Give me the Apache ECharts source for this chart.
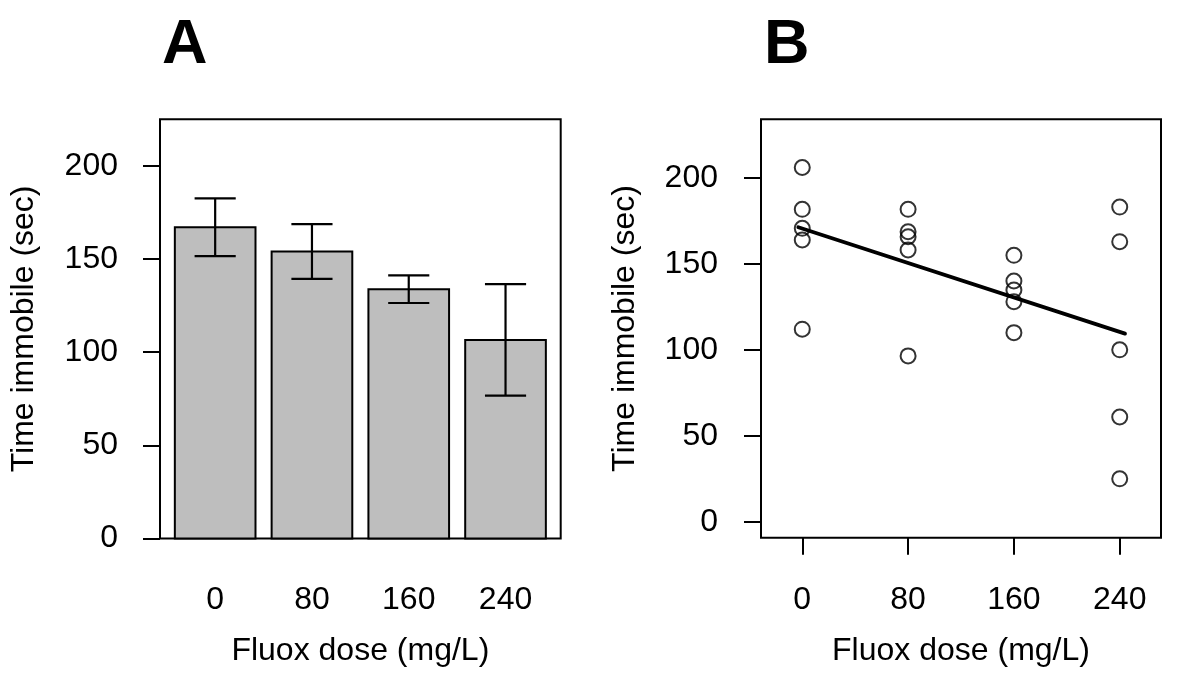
<!DOCTYPE html>
<html>
<head>
<meta charset="utf-8">
<script src="https://cdn.jsdelivr.net/npm/echarts@6/dist/echarts.min.js"></script>
<style>
html,body{margin:0;padding:0;background:#fff;}
#chart{width:1200px;height:699px;}
</style>
</head>
<body>
<div id="chart"></div>
<script>
// ---- data ----
const doseLabels = ['0', '80', '160', '240'];
const doseValues = [0, 80, 160, 240];
const meanImmobile = [167.1, 154.0, 133.8, 106.6];
const semImmobile = [15.5, 14.7, 7.4, 29.9];
const yTicks = [0, 50, 100, 150, 200];

const pts0 = [206.0, 181.7, 170.7, 163.9, 112.1];
const pts80 = [181.7, 168.7, 165.8, 158.1, 96.6];
const pts160 = [155.0, 140.1, 134.9, 128.1, 110.1];
const pts240 = [183.0, 162.9, 100.1, 61.1, 25.2];
const fitLine = [[-3, 171.3], [244, 109.5]];

// ---- build ----
const FONT = 'Liberation Sans';
const barData = meanImmobile.map((m, i) => [0.7 + i * 1.2, m, semImmobile[i]]);
const groups = [pts0, pts80, pts160, pts240];
const scatterData = [];
groups.forEach((g, i) => g.forEach(v => scatterData.push([doseValues[i], v])));

const labelStyle = {color: '#000', fontFamily: FONT, fontSize: 32};
const tickStyle = {show: true, length: 17, lineStyle: {color: '#000', width: 2}};

const chart = echarts.init(document.getElementById('chart'), null, {renderer: 'canvas'});
chart.setOption({
  animation: false,
  backgroundColor: '#fff',
  grid: [
    {left: 160, top: 119.3, right: 639.3, bottom: 160.5, show: true, borderColor: '#000', borderWidth: 2, backgroundColor: 'transparent'},
    {left: 761, top: 119.3, right: 39, bottom: 161.3, show: true, borderColor: '#000', borderWidth: 2, backgroundColor: 'transparent'}
  ],
  xAxis: [
    {
      type: 'value', gridIndex: 0, min: 0.016, max: 4.984,
      axisLine: {show: false, onZero: false}, axisTick: {show: false}, splitLine: {show: false},
      axisLabel: Object.assign({margin: 46, customValues: barData.map(d => d[0]),
        formatter: v => doseLabels[Math.round((v - 0.7) / 1.2)]}, labelStyle),
      name: 'Fluox dose (mg/L)', nameLocation: 'middle', nameGap: 97,
      nameTextStyle: labelStyle
    },
    {
      type: 'value', gridIndex: 1, min: -31.2, max: 271.2,
      axisLine: {show: false, onZero: false},
      axisTick: Object.assign({customValues: doseValues}, tickStyle),
      splitLine: {show: false},
      axisLabel: Object.assign({margin: 46, customValues: doseValues,
        formatter: v => doseLabels[doseValues.indexOf(v)]}, labelStyle),
      name: 'Fluox dose (mg/L)', nameLocation: 'middle', nameGap: 97,
      nameTextStyle: labelStyle
    }
  ],
  yAxis: [
    {
      type: 'value', gridIndex: 0, min: 0, max: 225,
      axisLine: {show: false, onZero: false},
      axisTick: Object.assign({customValues: yTicks}, tickStyle),
      splitLine: {show: false},
      axisLabel: Object.assign({margin: 42, customValues: yTicks}, labelStyle),
      name: 'Time immobile (sec)', nameLocation: 'middle', nameGap: 120,
      nameTextStyle: labelStyle
    },
    {
      type: 'value', gridIndex: 1, min: -9, max: 234,
      axisLine: {show: false, onZero: false},
      axisTick: Object.assign({customValues: yTicks}, tickStyle),
      splitLine: {show: false},
      axisLabel: Object.assign({margin: 43, customValues: yTicks}, labelStyle),
      name: 'Time immobile (sec)', nameLocation: 'middle', nameGap: 120,
      nameTextStyle: labelStyle
    }
  ],
  graphic: [
    {type: 'text', left: 162, top: 14, style: {text: 'A', font: 'bold 63px "Liberation Sans"', fill: '#000'}},
    {type: 'text', left: 764, top: 14, style: {text: 'B', font: 'bold 63px "Liberation Sans"', fill: '#000'}}
  ],
  series: [
    {
      type: 'custom', xAxisIndex: 0, yAxisIndex: 0, data: barData,
      renderItem: function (params, api) {
        const x = api.value(0), y = api.value(1), se = api.value(2);
        const p0 = api.coord([x - 0.5, 0]);
        const p1 = api.coord([x + 0.5, y]);
        const top = api.coord([x, y + se]);
        const bot = api.coord([x, y - se]);
        const hw = api.size([0.255, 0])[0];
        const ls = {stroke: '#000', lineWidth: 2.2};
        return {
          type: 'group',
          children: [
            {type: 'rect', shape: {x: p0[0], y: p1[1], width: p1[0] - p0[0], height: p0[1] - p1[1]},
             style: {fill: '#bebebe', stroke: '#000', lineWidth: 2}},
            {type: 'line', shape: {x1: top[0], y1: top[1], x2: bot[0], y2: bot[1]}, style: ls},
            {type: 'line', shape: {x1: top[0] - hw, y1: top[1], x2: top[0] + hw, y2: top[1]}, style: ls},
            {type: 'line', shape: {x1: bot[0] - hw, y1: bot[1], x2: bot[0] + hw, y2: bot[1]}, style: ls}
          ]
        };
      }
    },
    {
      type: 'scatter', xAxisIndex: 1, yAxisIndex: 1, data: scatterData,
      symbol: 'circle', symbolSize: 15,
      itemStyle: {color: 'rgba(0,0,0,0)', borderColor: '#000', borderWidth: 2}
    },
    {
      type: 'line', xAxisIndex: 1, yAxisIndex: 1, data: fitLine,
      symbol: 'none', lineStyle: {color: '#000', width: 3.8, cap: 'round'}
    }
  ]
});
</script>
</body>
</html>
